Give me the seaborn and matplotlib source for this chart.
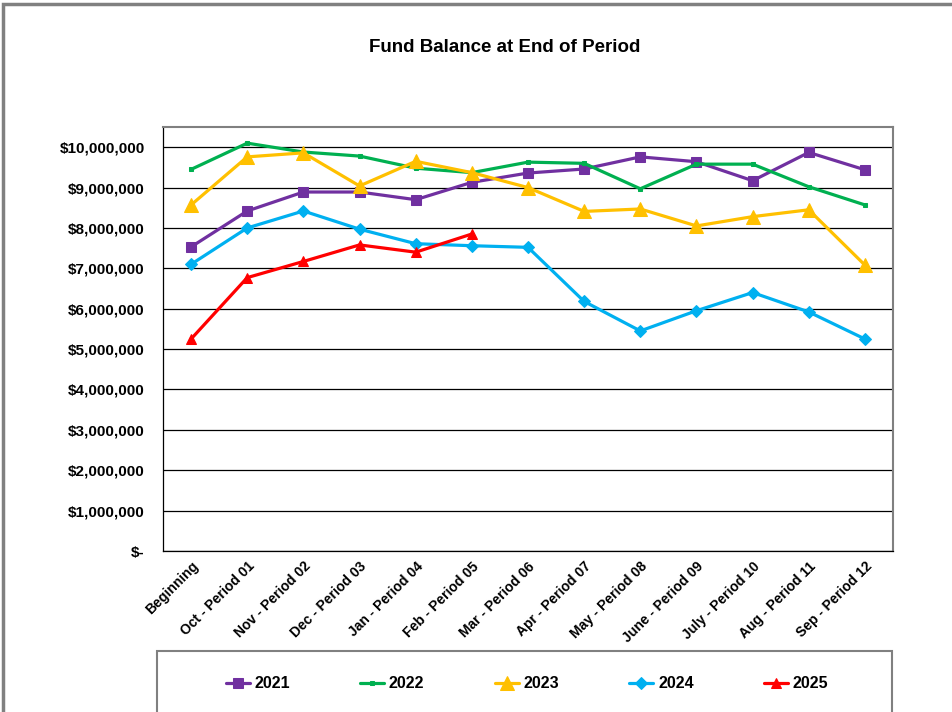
import numpy as np
import pandas as pd
import matplotlib
matplotlib.use("Agg")
import matplotlib.pyplot as plt
from matplotlib.patches import Rectangle
from matplotlib.ticker import FuncFormatter, FixedLocator
import seaborn as sns

periods = ["Beginning", "Oct - Period 01", "Nov - Period 02", "Dec - Period 03",
           "Jan - Period 04", "Feb - Period 05", "Mar - Period 06", "Apr - Period 07",
           "May - Period 08", "June - Period 09", "July - Period 10", "Aug - Period 11",
           "Sep - Period 12"]

fy2021 = [7.53, 8.42, 8.89, 8.89, 8.70, 9.13, 9.36, 9.46, 9.76, 9.64, 9.17, 9.87, 9.44]
fy2022 = [9.45, 10.10, 9.88, 9.78, 9.48, 9.37, 9.63, 9.60, 8.97, 9.58, 9.58, 9.02, 8.57]
fy2023 = [8.57, 9.76, 9.86, 9.04, 9.65, 9.37, 9.00, 8.41, 8.47, 8.05, 8.28, 8.45, 7.08]
fy2024 = [7.10, 8.00, 8.42, 7.97, 7.61, 7.56, 7.52, 6.18, 5.45, 5.95, 6.40, 5.92, 5.25]
fy2025 = [5.25, 6.77, 7.17, 7.58, 7.40, 7.85]

years = ["2021", "2022", "2023", "2024", "2025"]
series = [fy2021, fy2022, fy2023, fy2024, fy2025]
colors = ["#7030A0", "#00B050", "#FFC000", "#00B0F0", "#FF0000"]
markers = ["s", "s", "^", "D", "^"]
msizes = [6.5, 3.5, 9.5, 6.5, 7]

FONT = "Liberation Sans"

sns.set_style("white")
plt.rcParams["font.family"] = [FONT, "DejaVu Sans"]
plt.rcParams["text.color"] = "black"
plt.rcParams["xtick.color"] = "black"
plt.rcParams["ytick.color"] = "black"
plt.rcParams["xtick.labelcolor"] = "black"
plt.rcParams["ytick.labelcolor"] = "black"

fig = plt.figure(figsize=(9.52, 7.12), dpi=100)
W, H = 952, 712
ax = fig.add_axes([163 / W, 1 - 551 / H, 730 / W, 424 / H])

for yr, vals, c, m, ms in zip(years, series, colors, markers, msizes):
    df = pd.DataFrame({"x": np.arange(len(vals)), "y": np.array(vals) * 1e6})
    sns.lineplot(data=df, x="x", y="y", ax=ax, color=c, marker=m, markersize=ms,
                 markeredgecolor=c, linewidth=2.3, label=yr, sort=False, zorder=3)

ax.set_xlim(-0.5, len(periods) - 0.5)
ax.set_ylim(0, 10.5e6)
ax.set_xlabel("")
ax.set_ylabel("")

ax.yaxis.set_major_locator(FixedLocator(np.arange(0, 10.5e6, 1e6)))
ax.yaxis.set_major_formatter(FuncFormatter(lambda v, p: "$-" if v == 0 else f"${v:,.0f}"))
ax.grid(axis="y", color="black", linewidth=0.9)
ax.set_axisbelow(True)

ax.xaxis.set_major_locator(FixedLocator(np.arange(-0.5, len(periods), 1.0)))
ax.xaxis.set_major_formatter(FuncFormatter(lambda v, p: ""))
ax.set_xticks(np.arange(len(periods)), minor=True)
ax.set_xticklabels(periods, minor=True, rotation=45, ha="right", rotation_mode="anchor",
                   fontsize=10, fontweight="bold", color="black")
ax.tick_params(axis="x", which="minor", length=0, pad=6)
ax.tick_params(axis="x", which="major", length=5, direction="out", width=0.8, color="black")
ax.tick_params(axis="y", length=5, direction="out", width=0.8, color="black", pad=8)
for lbl in ax.get_yticklabels():
    lbl.set_fontsize(11)
    lbl.set_fontweight("bold")
    lbl.set_color("black")

for side in ["left", "bottom"]:
    ax.spines[side].set_color("black")
    ax.spines[side].set_linewidth(0.9)
for side in ["top", "right"]:
    ax.spines[side].set_color("#808080")
    ax.spines[side].set_linewidth(1.5)

fig.text(505 / W, 1 - 48 / H, "Fund Balance at End of Period", ha="center", va="center",
         fontsize=13.5, fontweight="bold", color="black")

# outer chart frame and legend box
fig.patches.append(Rectangle((3 / W, -0.1), 1.2, 1 - 4 / H + 0.1, transform=fig.transFigure,
                             fill=False, edgecolor="#808080", linewidth=2.5))
fig.patches.append(Rectangle((157 / W, -0.1), (892 - 157) / W, 1 - 651 / H + 0.1,
                             transform=fig.transFigure, fill=False, edgecolor="#808080",
                             linewidth=1.5))

handles, labels = ax.get_legend_handles_labels()
ax.get_legend().remove()
leg = fig.legend(handles, labels, loc="center", bbox_to_anchor=(527 / W, 1 - 684 / H), ncol=5,
                 frameon=False, prop={"family": FONT, "weight": "bold", "size": 11.5},
                 handlelength=1.5, handletextpad=0.3, columnspacing=4.4)
for t in leg.get_texts():
    t.set_color("black")

fig.savefig("out.png", dpi=100)
